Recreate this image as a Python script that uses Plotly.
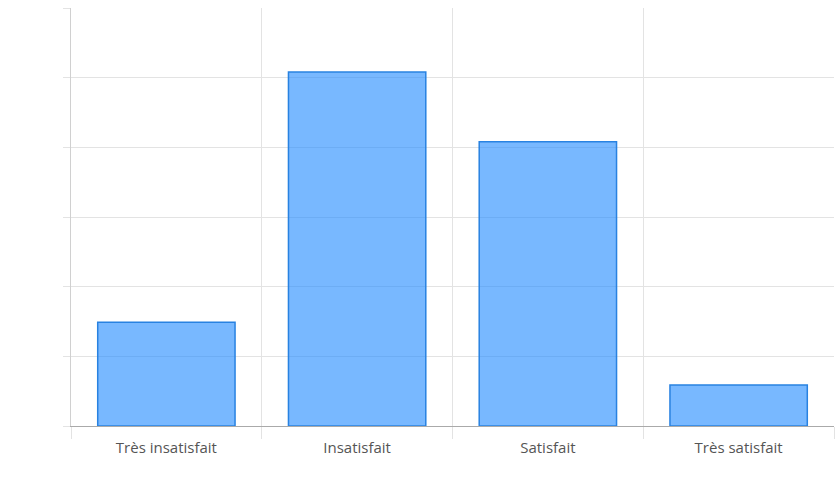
import plotly.graph_objects as go

categories = ["Très insatisfait", "Insatisfait", "Satisfait", "Très satisfait"]
values = [14.9, 50.8, 40.8, 5.9]

fig = go.Figure(go.Bar(
    x=categories, y=values,
    marker=dict(color="rgba(30,136,255,0.6)", line=dict(color="rgb(40,130,225)", width=1.5)),
    hoverinfo="x+y",
))

fig.update_layout(
    width=838, height=500,
    margin=dict(l=71, r=4, t=8, b=74),
    plot_bgcolor="white", paper_bgcolor="white",
    bargap=0.28,
    showlegend=False,
    font=dict(family="Open Sans, Noto Sans, sans-serif", size=14, color="#555"),
)
fig.update_xaxes(
    tickson="boundaries", showgrid=True, gridcolor="#e3e3e3", gridwidth=1,
    ticks="outside", ticklen=12, tickcolor="#e3e3e3",
    ticklabelstandoff=8,
    showline=True, linecolor="#aaaaaa", linewidth=1,
    tickfont=dict(size=15, color="#555"),
)
fig.update_yaxes(
    range=[0, 60], dtick=10, showticklabels=False,
    showgrid=True, gridcolor="#e3e3e3", gridwidth=1,
    ticks="outside", ticklen=7, tickcolor="#e3e3e3",
    showline=True, linecolor="#d0d0d0", linewidth=1,
    zeroline=False,
)

fig.write_html("out.html")
